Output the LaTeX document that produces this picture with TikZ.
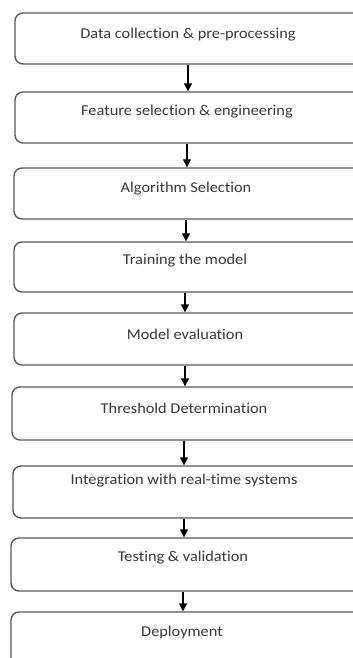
\documentclass[tikz,border=0pt]{standalone}
\usepackage{fontspec}
\newfontfamily\boxfont[FakeStretch=1.09, Ligatures={NoCommon, NoRare, NoDiscretionary}]{Carlito}
\usetikzlibrary{arrows.meta}
\definecolor{boxline}{HTML}{5A5A5A}
\definecolor{boxtext}{HTML}{3A3A3A}
\tikzset{
  stepbox/.style={draw=boxline, line width=1.4pt, rounded corners=8pt, fill=white, inner sep=0pt},
  steptext/.style={font=\boxfont\fontsize{15}{18}\selectfont, text=boxtext, inner sep=0pt},
  flowarrow/.style={draw=black, line width=1.4pt, -{Triangle[length=8pt,width=8pt]}}
}
\begin{document}
\begin{tikzpicture}[x=1pt,y=-1pt]
\useasboundingbox (0,0) rectangle (353,658);
\clip (0,0) rectangle (353,658);
\fill[white] (0,0) rectangle (353,658);
% boxes: left, top, bottom, cx
\foreach \n/\L/\T/\B/\cx in {1/15/13/64/188, 2/15/92/143/187, 3/14/168/219/186, 4/14/242/292/185, 5/14/313/365/185, 6/12/387/440/184, 7/13/466/518/184, 8/11/538/591/183, 9/11/612/672/182}{
  \pgfmathsetmacro\w{2*(\cx-\L)+10}
  \pgfmathsetmacro\h{\B-\T}
  \pgfmathsetmacro\mx{\L+\w/2}
  \pgfmathsetmacro\my{(\T+\B)/2}
  \node[stepbox, minimum width=\w pt, minimum height=\h pt] (b\n) at (\mx,\my) {};
}
\node[steptext] (t1) at (188,35) {Data collection \& pre-processing};
\node[steptext] (t2) at (187,112) {Feature selection \& engineering};
\node[steptext] (t3) at (186,189) {Algorithm Selection};
\node[steptext] (t4) at (185,261) {Training the model};
\node[steptext] (t5) at (185,334) {Model evaluation};
\node[steptext] (t6) at (184,408) {Threshold Determination};
\node[steptext] (t7) at (184,481) {Integration with real-time systems};
\node[steptext] (t8) at (183,558) {Testing \& validation};
\node[steptext] (t9) at (182,632) {Deployment};
\draw[flowarrow] (t1 |- b1.south) -- (t1 |- b2.north);
\draw[flowarrow] (t2 |- b2.south) -- (t2 |- b3.north);
\draw[flowarrow] (t3 |- b3.south) -- (t3 |- b4.north);
\draw[flowarrow] (t4 |- b4.south) -- (t4 |- b5.north);
\draw[flowarrow] (t5 |- b5.south) -- (t5 |- b6.north);
\draw[flowarrow] (t6 |- b6.south) -- (t6 |- b7.north);
\draw[flowarrow] (t7 |- b7.south) -- (t7 |- b8.north);
\draw[flowarrow] (t8 |- b8.south) -- (t8 |- b9.north);
\end{tikzpicture}
\end{document}
